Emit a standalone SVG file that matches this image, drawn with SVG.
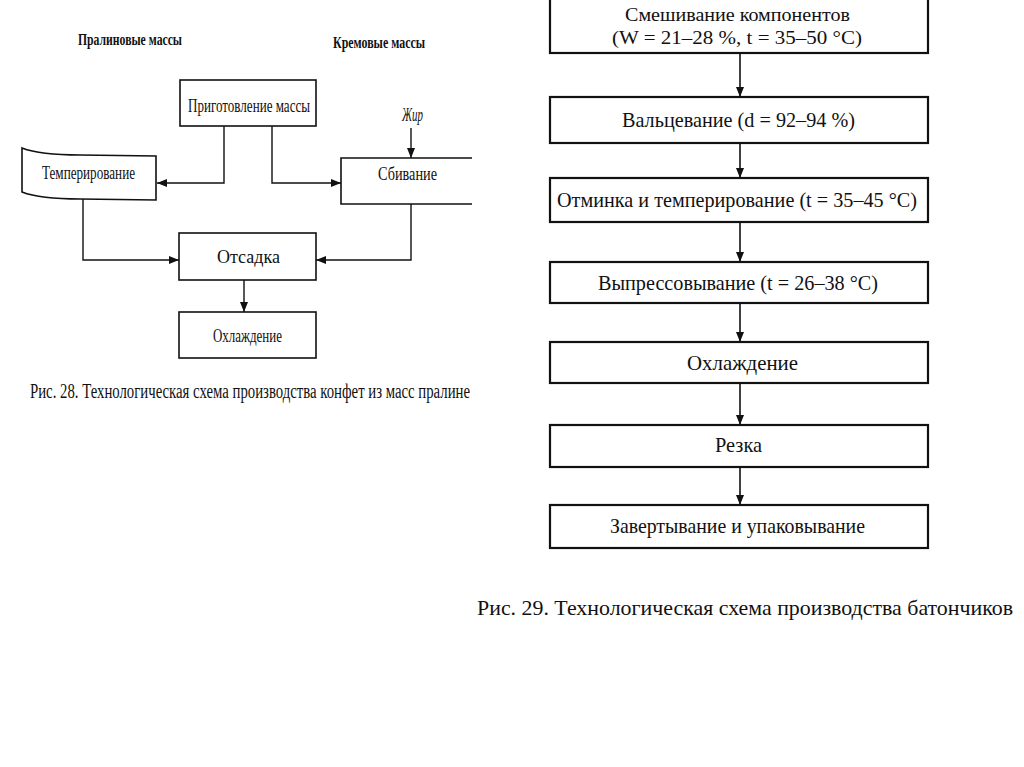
<svg xmlns="http://www.w3.org/2000/svg" width="1024" height="767" viewBox="0 0 1024 767">
<style>
.box{fill:#fff;stroke:#111;stroke-width:1.6}
.rbox{fill:#fff;stroke:#111;stroke-width:2.2}
.ln{fill:none;stroke:#111;stroke-width:1.4}
.rln{fill:none;stroke:#111;stroke-width:1.6}
text{font-family:"Liberation Serif","Times New Roman",serif;fill:#111}
.l{font-size:18px}
.r{font-size:21px}
.h{font-size:17px;font-weight:bold}
</style>
<defs>
<marker id="ah" viewBox="0 0 10 8" refX="10" refY="4" markerWidth="10" markerHeight="8" markerUnits="userSpaceOnUse" orient="auto">
<path d="M0,0 L10,4 L0,8 Z" fill="#111"/>
</marker>
</defs>
<rect width="1024" height="767" fill="#fff"/>

<g id="labels-left">
<text class="h" x="78" y="45" textLength="104" lengthAdjust="spacingAndGlyphs">Пралиновые массы</text>
<text class="h" x="333" y="48" textLength="92" lengthAdjust="spacingAndGlyphs">Кремовые массы</text>
<text class="l" x="402" y="121" font-style="italic" textLength="21" lengthAdjust="spacingAndGlyphs">Жир</text>
</g>

<g id="connectors">
<path class="ln" d="M224,126 V183 H157" marker-end="url(#ah)"/>
<path class="ln" d="M272,126 V183 H341" marker-end="url(#ah)"/>
<path class="ln" d="M411,128 V158" marker-end="url(#ah)"/>
<path class="ln" d="M83,199 V260 H179" marker-end="url(#ah)"/>
<path class="ln" d="M411,204 V260 H316" marker-end="url(#ah)"/>
<path class="ln" d="M244,280 V312" marker-end="url(#ah)"/>
<path class="rln" d="M740,53 V97" marker-end="url(#ah)"/>
<path class="rln" d="M740,143 V178" marker-end="url(#ah)"/>
<path class="rln" d="M740,222 V262" marker-end="url(#ah)"/>
<path class="rln" d="M740,303 V342" marker-end="url(#ah)"/>
<path class="rln" d="M740,383 V425" marker-end="url(#ah)"/>
<path class="rln" d="M740,467 V505" marker-end="url(#ah)"/>
</g>

<g id="prep">
<rect class="box" x="180" y="80" width="136" height="46"/>
<text class="l" x="188" y="112" textLength="122" lengthAdjust="spacingAndGlyphs">Приготовление массы</text>
</g>
<g id="temper">
<path class="box" d="M22,148 Q40,155 80,155 L156,156 L156,200 L80,199 Q40,199 22,192 Z"/>
<text class="l" x="42" y="179" textLength="93" lengthAdjust="spacingAndGlyphs">Темперирование</text>
</g>
<g id="sbiv">
<path class="box" d="M472,158 H341 V204 H472"/>
<text class="l" x="378" y="180" textLength="59" lengthAdjust="spacingAndGlyphs">Сбивание</text>
</g>
<g id="otsadka">
<rect class="box" x="179" y="233" width="137" height="47"/>
<text class="l" x="217" y="263" textLength="63" lengthAdjust="spacingAndGlyphs">Отсадка</text>
</g>
<g id="ohl-left">
<rect class="box" x="179" y="312" width="137" height="46"/>
<text class="l" x="213" y="342" textLength="69" lengthAdjust="spacingAndGlyphs">Охлаждение</text>
</g>
<text x="30" y="398" font-size="20" textLength="440" lengthAdjust="spacingAndGlyphs">Рис. 28. Технологическая схема производства конфет из масс пралине</text>

<g id="mix">
<rect class="rbox" x="550" y="-5" width="378" height="58"/>
<text x="625" y="21" font-size="19" textLength="225" lengthAdjust="spacingAndGlyphs">Смешивание компонентов</text>
<text x="612" y="44" font-size="19" textLength="250" lengthAdjust="spacingAndGlyphs">(W = 21–28 %, t = 35–50 °C)</text>
</g>
<g id="valc">
<rect class="rbox" x="550" y="97" width="378" height="46"/>
<text class="r" x="622" y="127" textLength="233" lengthAdjust="spacingAndGlyphs">Вальцевание (d = 92–94 %)</text>
</g>
<g id="otminka">
<rect class="rbox" x="550" y="178" width="378" height="44"/>
<text class="r" x="557" y="207" textLength="360" lengthAdjust="spacingAndGlyphs">Отминка и темперирование (t = 35–45 °C)</text>
</g>
<g id="vypress">
<rect class="rbox" x="550" y="262" width="378" height="41"/>
<text class="r" x="598" y="290" textLength="280" lengthAdjust="spacingAndGlyphs">Выпрессовывание (t = 26–38 °C)</text>
</g>
<g id="ohl-right">
<rect class="rbox" x="550" y="342" width="378" height="41"/>
<text class="r" x="687" y="370" textLength="111" lengthAdjust="spacingAndGlyphs">Охлаждение</text>
</g>
<g id="rezka">
<rect class="rbox" x="550" y="425" width="378" height="42"/>
<text class="r" x="715" y="452" textLength="47" lengthAdjust="spacingAndGlyphs">Резка</text>
</g>
<g id="zavert">
<rect class="rbox" x="550" y="505" width="378" height="43"/>
<text class="r" x="610" y="533" textLength="255" lengthAdjust="spacingAndGlyphs">Завертывание и упаковывание</text>
</g>
<text x="477" y="615" font-size="22" textLength="536" lengthAdjust="spacingAndGlyphs">Рис. 29. Технологическая схема производства батончиков</text>
</svg>
